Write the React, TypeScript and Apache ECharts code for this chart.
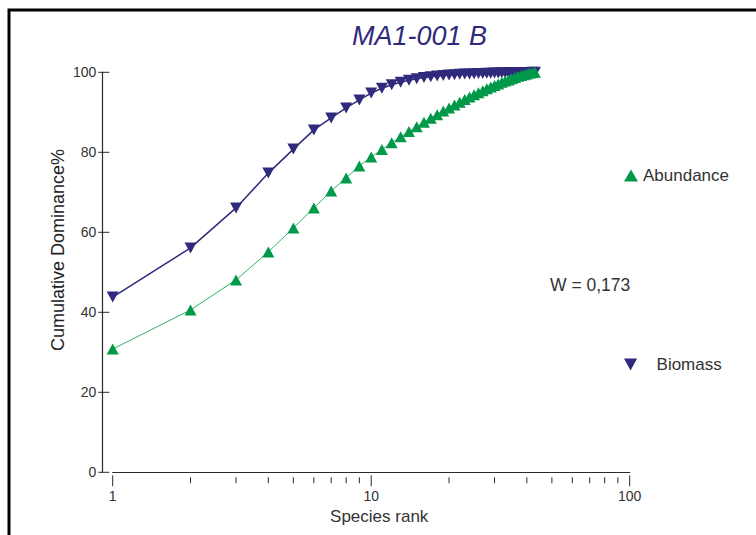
import React, { useEffect, useRef } from "react";
import * as echarts from "echarts";

const ranks = [
  1, 2, 3, 4, 5, 6, 7, 8, 9, 10, 11, 12, 13, 14, 15, 16, 17, 18, 19, 20, 21, 22,
  23, 24, 25, 26, 27, 28, 29, 30, 31, 32, 33, 34, 35, 36, 37, 38, 39, 40, 41, 42, 43,
];
const abundance = [
  30.8, 40.6, 48.1, 55.1, 61.1, 66.1, 70.3, 73.6, 76.6, 78.8, 80.7, 82.4, 83.9,
  85.2, 86.4, 87.5, 88.5, 89.4, 90.3, 91.1, 91.8, 92.5, 93.2, 93.8, 94.4, 94.9,
  95.4, 95.9, 96.3, 96.7, 97.1, 97.5, 97.8, 98.1, 98.4, 98.7, 99.0, 99.2, 99.4,
  99.6, 99.8, 99.9, 100,
];
const biomass = [
  43.8, 56.1, 66.1, 74.8, 80.8, 85.6, 88.6, 91.1, 93.1, 94.8, 96.0, 96.9, 97.5,
  98.0, 98.4, 98.7, 98.9, 99.1, 99.2, 99.3, 99.4, 99.5, 99.55, 99.6, 99.65, 99.7,
  99.73, 99.76, 99.79, 99.82, 99.84, 99.86, 99.88, 99.9, 99.92, 99.93, 99.94,
  99.95, 99.96, 99.97, 99.98, 99.99, 100,
];
const xMajorTicks = [1, 10, 100];
const xMinorTicks = [2, 3, 4, 5, 6, 7, 8, 9, 20, 30, 40, 50, 60, 70, 80, 90];
const yTicks = [0, 20, 40, 60, 80, 100];

const X_OFF = 8;
const Y_OFF = 10.4;
const FONT = "'Liberation Sans', Arial, sans-serif";
const GREEN = "#00994a";
const GREEN_LINE = "#2fb560";
const BLUE = "#2f2a7c";
const AXIS = "#2a2a2a";
const DOWN_TRIANGLE = "path://M0,0L12,0L6,11Z";

export default function App() {
  const ref = useRef<HTMLDivElement>(null);
  useEffect(() => {
    const chart = echarts.init(ref.current!, null, { renderer: "svg" });
    const tickSeries = (name: string, vals: number[], dir: string, a: number, b: number) => ({
      type: "custom",
      name,
      silent: true,
      clip: false,
      z: 5,
      data: vals.map((v) => (dir === "x" ? [v, 0] : [1, v])),
      renderItem: (_p: any, api: any) => {
        const p = api.coord([api.value(0), api.value(1)]);
        if (dir === "x") {
          const y = p[1] + X_OFF;
          return {
            type: "line",
            shape: { x1: p[0], y1: y - a, x2: p[0], y2: y + b },
            style: { stroke: AXIS, lineWidth: 1 },
          };
        }
        const x = p[0] - Y_OFF;
        return {
          type: "line",
          shape: { x1: x - b, y1: p[1], x2: x + a, y2: p[1] },
          style: { stroke: AXIS, lineWidth: 1 },
        };
      },
    });
    chart.setOption({
      animation: false,
      backgroundColor: "#ffffff",
      title: {
        text: "MA1-001 B",
        left: 352,
        top: 22,
        padding: 0,
        textStyle: { fontFamily: FONT, fontSize: 27, fontStyle: "italic", fontWeight: "normal", color: BLUE },
      },
      grid: { left: 112.7, right: 126.3, top: 72.3, bottom: 62.7 },
      xAxis: {
        type: "log",
        logBase: 10,
        min: 1,
        max: 100,
        offset: X_OFF,
        name: "Species rank",
        nameLocation: "middle",
        nameGap: 22,
        nameTextStyle: { fontFamily: FONT, fontSize: 17, color: "#333", padding: [0, 0, 0, 16] },
        axisLine: { show: true, lineStyle: { color: AXIS, width: 1.2 } },
        axisTick: { show: false },
        splitLine: { show: false },
        minorTick: { show: false },
        axisLabel: { fontFamily: FONT, fontSize: 14, color: "#333", margin: 9 },
      },
      yAxis: {
        type: "value",
        min: 0,
        max: 100,
        interval: 20,
        offset: Y_OFF,
        axisLine: { show: true, lineStyle: { color: AXIS, width: 1.2 } },
        axisTick: { show: false },
        splitLine: { show: false },
        axisLabel: { fontFamily: FONT, fontSize: 14, color: "#333", margin: 6 },
      },
      legend: [
        {
          data: [{ name: "Abundance", icon: "triangle" }],
          left: 624,
          top: 167,
          itemWidth: 14,
          itemHeight: 12,
          itemGap: 0,
          padding: 0,
          selectedMode: false,
          textStyle: { fontFamily: FONT, fontSize: 17, color: "#333" },
        },
        {
          data: [{ name: "Biomass", icon: DOWN_TRIANGLE }],
          left: 624,
          top: 356,
          itemWidth: 14,
          itemHeight: 12,
          padding: 0,
          selectedMode: false,
          textStyle: { fontFamily: FONT, fontSize: 17, color: "#333", padding: [0, 0, 0, 14] },
        },
      ],
      graphic: [
        {
          type: "rect",
          shape: { x: 9, y: 10, width: 900, height: 700 },
          style: { fill: "none", stroke: "#000", lineWidth: 3 },
          silent: true,
          z: 100,
        },
        {
          type: "text",
          x: 550,
          y: 285,
          style: {
            text: "W = 0,173",
            fontFamily: FONT,
            fontSize: 17.5,
            fill: "#333",
            verticalAlign: "middle",
          },
        },
        {
          type: "text",
          x: 58,
          y: 250,
          rotation: Math.PI / 2,
          style: {
            text: "Cumulative Dominance%",
            fontFamily: FONT,
            fontSize: 18,
            fill: "#222",
            align: "center",
            verticalAlign: "middle",
          },
        },
      ],
      series: [
        {
          name: "Biomass",
          type: "line",
          data: ranks.map((r, i) => [r, biomass[i]]),
          symbol: "triangle",
          symbolRotate: 180,
          symbolSize: [12, 11],
          itemStyle: { color: BLUE },
          lineStyle: { color: BLUE, width: 1.5 },
          z: 3,
        },
        {
          name: "Abundance",
          type: "line",
          data: ranks.map((r, i) => [r, abundance[i]]),
          symbol: "triangle",
          symbolSize: [12, 11],
          itemStyle: { color: GREEN },
          lineStyle: { color: GREEN_LINE, width: 1 },
          z: 4,
        },
        tickSeries("xMajor", xMajorTicks, "x", 5, 6),
        tickSeries("xMinor", xMinorTicks, "x", 3, 3),
        tickSeries("yTicks", yTicks, "y", 7, 4),
      ],
    });
    return () => chart.dispose();
  }, []);
  return (
    <div
      ref={ref}
      style={{ position: "fixed", left: 0, top: 0, width: 756, height: 535 }}
    />
  );
}
